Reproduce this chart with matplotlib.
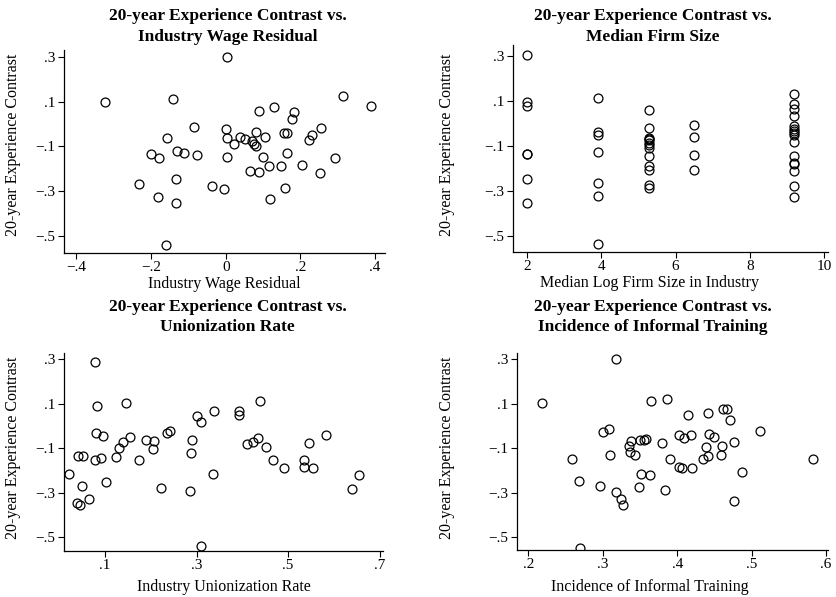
import matplotlib
matplotlib.use('Agg')
import matplotlib.pyplot as plt

plt.rcParams['font.family'] = ['Liberation Serif', 'DejaVu Serif']

# 20-year experience contrast against four industry characteristics
wage_resid = [0.003, -0.323, -0.141, 0.315, 0.389, 0.088, 0.128, 0.183, 0.177, -0.085,
              0.001, 0.080, 0.254, 0.155, 0.165, 0.230, 0.222, -0.156, 0.004, 0.038,
              0.051, 0.021, 0.105, 0.071, 0.076, 0.082, -0.130, -0.111, -0.200, -0.178,
              -0.078, 0.002, 0.099, 0.164, 0.292, 0.116, 0.148, 0.204, 0.066, 0.088,
              0.251, -0.231, -0.134, -0.037, -0.004, 0.159, -0.182, 0.118, -0.133, -0.161]
contrast_wage = [0.300, 0.096, 0.110, 0.125, 0.081, 0.058, 0.077, 0.053, 0.023, -0.015,
                 -0.024, -0.036, -0.018, -0.039, -0.039, -0.048, -0.073, -0.064, -0.064, -0.058,
                 -0.066, -0.090, -0.058, -0.076, -0.088, -0.099, -0.119, -0.131, -0.133, -0.151,
                 -0.137, -0.146, -0.146, -0.131, -0.151, -0.188, -0.188, -0.183, -0.209, -0.213,
                 -0.217, -0.268, -0.247, -0.277, -0.290, -0.284, -0.325, -0.336, -0.354, -0.539]

firm_size = [2.0] * 7 + [3.9] * 7 + [5.28] * 13 + [6.5] * 4 + [9.18] * 16
contrast_size = [0.303, 0.097, 0.076, -0.135, -0.137, -0.246, -0.353,
                 0.113, -0.037, -0.051, -0.126, -0.265, -0.322, -0.537,
                 0.061, -0.021, -0.063, -0.068, -0.074, -0.086, -0.096, -0.107, -0.146,
                 -0.190, -0.205, -0.273, -0.288,
                 -0.007, -0.059, -0.141, -0.205,
                 0.132, 0.087, 0.065, 0.035, -0.010, -0.025, -0.032, -0.041, -0.051,
                 -0.081, -0.146, -0.176, -0.182, -0.211, -0.277, -0.325]

union_rate = [0.078, 0.083, 0.147, 0.081, 0.095, 0.156, 0.140, 0.132, 0.125, 0.042,
              0.053, 0.078, 0.091, 0.022, 0.050, 0.102, 0.066, 0.040, 0.046, 0.174,
              0.189, 0.207, 0.205, 0.223, 0.235, 0.243, 0.291, 0.288, 0.286, 0.301,
              0.310, 0.338, 0.337, 0.310, 0.392, 0.393, 0.439, 0.410, 0.424, 0.435,
              0.451, 0.467, 0.491, 0.534, 0.534, 0.555, 0.545, 0.582, 0.639, 0.655]
contrast_union = [0.285, 0.090, 0.101, -0.032, -0.047, -0.051, -0.072, -0.099, -0.140, -0.137,
                  -0.137, -0.153, -0.146, -0.215, -0.271, -0.252, -0.329, -0.345, -0.357, -0.152,
                  -0.066, -0.070, -0.106, -0.280, -0.032, -0.022, -0.066, -0.124, -0.295, 0.042,
                  0.015, 0.065, -0.217, -0.540, 0.067, 0.049, 0.113, -0.084, -0.073, -0.056,
                  -0.096, -0.152, -0.190, -0.155, -0.187, -0.190, -0.076, -0.042, -0.286, -0.220]

training = [0.318, 0.219, 0.365, 0.386, 0.414, 0.442, 0.462, 0.467, 0.471, 0.511,
            0.301, 0.308, 0.402, 0.409, 0.418, 0.443, 0.449, 0.338, 0.350, 0.355,
            0.358, 0.380, 0.335, 0.337, 0.343, 0.310, 0.439, 0.460, 0.476, 0.259,
            0.390, 0.435, 0.441, 0.459, 0.583, 0.402, 0.407, 0.420, 0.487, 0.268,
            0.351, 0.363, 0.296, 0.349, 0.383, 0.318, 0.324, 0.327, 0.476, 0.270]
contrast_train = [0.300, 0.102, 0.111, 0.122, 0.049, 0.057, 0.077, 0.077, 0.025, -0.022,
                  -0.026, -0.014, -0.041, -0.056, -0.041, -0.037, -0.049, -0.067, -0.062, -0.062,
                  -0.058, -0.077, -0.092, -0.115, -0.130, -0.130, -0.097, -0.089, -0.071, -0.147,
                  -0.147, -0.147, -0.135, -0.132, -0.150, -0.185, -0.191, -0.191, -0.206, -0.248,
                  -0.216, -0.221, -0.268, -0.275, -0.289, -0.296, -0.326, -0.357, -0.338, -0.547]

y_ticks = [0.3, 0.1, -0.1, -0.3, -0.5]


def fmt(v):
    if abs(v) < 1e-9:
        return '0'
    if abs(v - round(v)) < 1e-9:
        return str(int(round(v)))
    s = f'{v:.1f}'.replace('0.', '.')
    return s.replace('-', '\u2212')


def panel(rect, x, y, xlim, ylim, xticks, title, xlabel, title_x, title_y, xlabel_y):
    ax = fig.add_axes(rect)
    ax.plot(x, y, 'o', mfc='none', mec='black', ms=6.4, mew=0.9)
    ax.set_xlim(xlim)
    ax.set_ylim(ylim)
    ax.set_xticks(xticks)
    ax.set_xticklabels([fmt(v) for v in xticks])
    ax.set_yticks(y_ticks)
    ax.set_yticklabels([fmt(v) for v in y_ticks])
    for side in ['top', 'right']:
        ax.spines[side].set_visible(False)
    for side in ['left', 'bottom']:
        ax.spines[side].set_linewidth(0.9)
    ax.tick_params(direction='out', length=4, width=0.8, labelsize=11, pad=2)
    fig.text(title_x, title_y, title, ha='center', va='center',
             fontsize=12.5, fontweight='bold', linespacing=1.4)
    fig.text(title_x - 0.004, xlabel_y, xlabel, ha='center', va='center', fontsize=11.5)
    return ax


fig = plt.figure(figsize=(8.36, 5.97), dpi=100)

panel([0.0766, 0.5762, 0.384, 0.340], wage_resid, contrast_wage,
      (-0.433, 0.4265), (-0.576, 0.33), [-0.4, -0.2, 0, 0.2, 0.4],
      '20-year Experience Contrast vs.\nIndustry Wage Residual',
      'Industry Wage Residual', 0.272, 0.955, 0.525)
panel([0.6136, 0.5779, 0.3768, 0.3467], firm_size, contrast_size,
      (1.622, 10.098), (-0.571, 0.349), [2, 4, 6, 8, 10],
      '20-year Experience Contrast vs.\nMedian Firm Size',
      'Median Log Firm Size in Industry', 0.781, 0.955, 0.526)
panel([0.0766, 0.0771, 0.3816, 0.3317], union_rate, contrast_union,
      (0.011, 0.707), (-0.562, 0.327), [0.1, 0.3, 0.5, 0.7],
      '20-year Experience Contrast vs.\nUnionization Rate',
      'Industry Unionization Rate', 0.272, 0.469, 0.016)
panel([0.618, 0.0787, 0.3724, 0.330], training, contrast_train,
      (0.1844, 0.6025), (-0.557, 0.327), [0.2, 0.3, 0.4, 0.5, 0.6],
      '20-year Experience Contrast vs.\nIncidence of Informal Training',
      'Incidence of Informal Training', 0.781, 0.469, 0.016)

# y-axis captions beside each panel
for xpos, ypos in [(0.015, 0.757), (0.535, 0.757), (0.015, 0.25), (0.535, 0.25)]:
    fig.text(xpos, ypos, '20-year Experience Contrast', rotation=90,
             ha='center', va='center', fontsize=11.5)

fig.savefig('out.png', dpi=100)
